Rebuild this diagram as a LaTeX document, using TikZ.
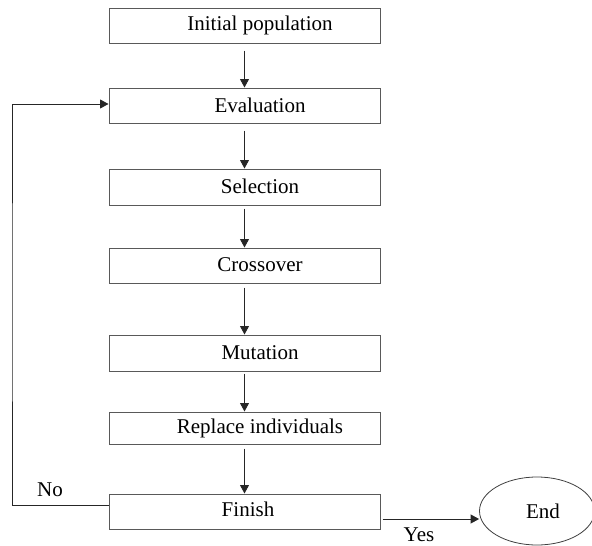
\documentclass[tikz,border=0pt]{standalone}
\usepackage{fontspec}
\setmainfont{Liberation Serif}
\usetikzlibrary{arrows.meta,shapes.geometric}
\begin{document}
\begin{tikzpicture}[x=1pt,y=-1pt,
  font=\fontsize{21}{25}\selectfont,
  stepbox/.style={draw=black!65,line width=1pt,minimum width=271pt,minimum height=35pt,inner sep=0pt},
  arr/.style={draw=black!85,line width=0.9pt,-{Triangle[length=8.5pt,width=9pt]}},
  lbl/.style={inner sep=0pt}]
\useasboundingbox (0,0) rectangle (592,546);
\node[stepbox] (init) at (244.5,25.5) {\raisebox{1.5pt}{\hspace*{31pt}Initial population}};
\node[stepbox] (eval) at (244.5,105.5) {\raisebox{1.5pt}{\hspace*{31pt}Evaluation}};
\node[stepbox,minimum height=36pt] (sel) at (244.5,187) {\raisebox{1.5pt}{\hspace*{31pt}Selection}};
\node[stepbox] (cross) at (244.5,265.5) {\raisebox{1.5pt}{\hspace*{31pt}Crossover}};
\node[stepbox,minimum height=36pt] (mut) at (244.5,353) {\raisebox{1.5pt}{\hspace*{31pt}Mutation}};
\node[stepbox,minimum height=32pt] (repl) at (244.5,428) {\raisebox{1.5pt}{\hspace*{31pt}Replace individuals}};
\node[stepbox] (fin) at (244.5,511.5) {\raisebox{4pt}{\hspace*{7pt}Finish}};
\node[draw=black!75,line width=0.8pt,ellipse,minimum width=115pt,minimum height=68pt,inner sep=0pt] (end) at (537,511) {\hspace*{12pt}End};
\draw[arr,shorten <=7pt] (init) -- (eval);
\draw[arr,shorten <=7pt] (eval) -- (sel);
\draw[arr,shorten <=3pt] (sel) -- (cross);
\draw[arr,shorten <=4pt] (cross) -- (mut);
\draw[arr,shorten <=2pt] (mut) -- (repl);
\draw[arr,shorten <=4pt] (repl) -- (fin);
\coordinate (loopx) at (12,300);
\coordinate (finout) at ([yshift=6.5pt]fin.west);
\coordinate (evin) at ([yshift=1.5pt]eval.west);
\draw[arr] (finout) -| (loopx) |- (evin);
\coordinate (yesstart) at ([shift={(2pt,-7.5pt)}]fin.east);
\draw[arr] (yesstart) -- (yesstart -| end.west);
\node[lbl] (no) at (50,490) {No};
\node[lbl] (yes) at (419,535) {Yes};
\end{tikzpicture}
\end{document}
